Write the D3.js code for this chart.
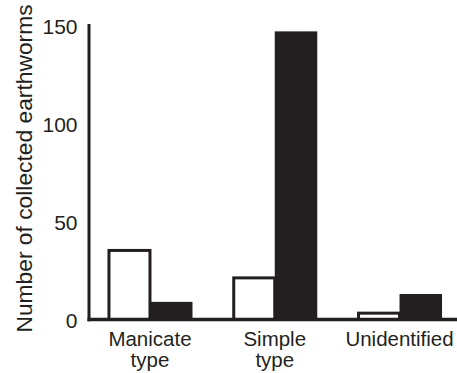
<!DOCTYPE html>
<html>
<head>
<meta charset="utf-8">
<script src="https://cdn.jsdelivr.net/npm/d3@7"></script>
<style>
  html, body { margin: 0; padding: 0; background: #fff; }
  svg { display: block; }
  text { font-family: "Liberation Sans", Arial, Helvetica, sans-serif; fill: #231f20; }
</style>
</head>
<body>
<svg id="chart" width="457" height="373"></svg>
<script>
// Earthworm counts by typhlosole type, two samples per type
const categories = ["Manicate type", "Simple type", "Unidentified"];
const series = ["open", "filled"];
const openValues = [36, 22, 4];
const filledValues = [9, 147, 13];
const yTicks = [0, 50, 100, 150];
const yTitle = "Number of collected earthworms";

const ink = "#231f20";
const svg = d3.select("#chart");

const y = d3.scaleLinear().domain([0, 150]).range([319.5, 25.5]);

const x = d3.scaleBand()
  .domain(categories)
  .range([89, 460.5])
  .paddingInner(0.3186)
  .paddingOuter(0.148);

const xs = d3.scaleBand().domain(series).range([0, x.bandwidth()]);

const rows = categories.map((c, i) => ({ cat: c, open: openValues[i], filled: filledValues[i] }));

const g = svg.append("g");

// open (white, outlined) bars
const sw = 3;
g.selectAll("rect.open")
  .data(rows)
  .join("rect")
  .attr("class", "open")
  .attr("x", d => x(d.cat) + xs("open") + sw / 2)
  .attr("y", d => y(d.open) + sw / 2)
  .attr("width", xs.bandwidth() - sw / 2)
  .attr("height", d => y(0) - y(d.open) - sw / 2)
  .attr("fill", "#fff")
  .attr("stroke", ink)
  .attr("stroke-width", sw);

// filled (black) bars
g.selectAll("rect.filled")
  .data(rows)
  .join("rect")
  .attr("class", "filled")
  .attr("x", d => x(d.cat) + xs("filled"))
  .attr("y", d => y(d.filled))
  .attr("width", xs.bandwidth())
  .attr("height", d => y(0) - y(d.filled))
  .attr("fill", ink);

// axis lines
svg.append("line")
  .attr("x1", 89).attr("x2", 89)
  .attr("y1", y(150) - 1.5).attr("y2", y(0) + 1.75)
  .attr("stroke", ink).attr("stroke-width", 3);
svg.append("line")
  .attr("x1", 87.5).attr("x2", 457)
  .attr("y1", y(0)).attr("y2", y(0))
  .attr("stroke", ink).attr("stroke-width", 3.5);

// y tick labels
const yAxis = d3.axisLeft(y).tickValues(yTicks).tickSize(0).tickPadding(0);
const ya = svg.append("g").attr("transform", "translate(77.5,0)").call(yAxis);
ya.select(".domain").remove();
ya.selectAll("text")
  .attr("font-size", "21px")
  .attr("font-family", "Liberation Sans, Arial, sans-serif")
  .attr("fill", ink)
  .attr("dy", "0.36em");

// category labels (two lines where needed)
const xl = svg.append("g");
categories.forEach(c => {
  const words = c.split(" ");
  const t = xl.append("text")
    .attr("text-anchor", "middle")
    .attr("font-size", "20.5px")
    .attr("x", x(c) + x.bandwidth() / 2)
    .attr("y", 345.5);
  words.forEach((w, i) => {
    t.append("tspan")
      .attr("x", x(c) + x.bandwidth() / 2)
      .attr("dy", i === 0 ? 0 : 21)
      .text(w);
  });
});

// y axis title
svg.append("text")
  .attr("transform", "translate(31.5,168.5) rotate(-90)")
  .attr("text-anchor", "middle")
  .attr("font-size", "22.8px")
  .text(yTitle);
</script>
</body>
</html>
